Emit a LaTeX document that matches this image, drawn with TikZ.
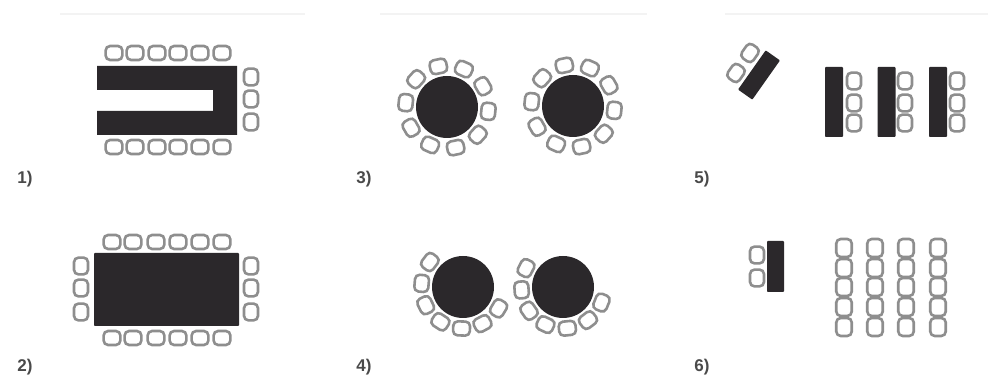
\documentclass[tikz,border=0pt]{standalone}
\usepackage{fontspec}
\setmainfont{Liberation Sans}
\usepackage{tikz}
\usetikzlibrary{positioning}
\definecolor{tabledark}{HTML}{2B282B}
\definecolor{chairgray}{HTML}{8E8E8E}
\definecolor{labelgray}{HTML}{4A4A4A}
\definecolor{rulegray}{HTML}{F3F3F3}

\begin{document}
\begin{tikzpicture}[x=1pt,y=1pt,
    desk/.style={fill=tabledark,inner sep=0pt,outer sep=0pt,rounded corners=.8pt},
    round/.style={circle,fill=tabledark,inner sep=0pt,outer sep=0pt,minimum size=62pt},
    chair/.style={draw=chairgray,fill=white,line width=2.6pt,rounded corners=4.5pt,inner sep=0pt,outer sep=0pt,minimum width=16.8pt,minimum height=14pt},
    seat/.style={chair,minimum width=15.5pt,minimum height=18pt},
    tag/.style={text=labelgray,font=\fontsize{17}{17}\bfseries\selectfont,inner sep=0pt},
    rule/.style={rulegray,line width=1.5pt}]
    \useasboundingbox (0,0) rectangle (988,385);
    \draw[rule] (60,371)--(305,371) (380,371)--(647,371) (725,371)--(988,371);

    % 1) open table
    \path \foreach \x in {114,135,157,178,200,222}{(\x,332)node[chair](a\x){} (\x,238)node[chair](b\x){}}
    \foreach \y in {308,286,263}{(251,\y)node[chair,rotate=90](c\y){}};
    \fill[tabledark] (97,319)--(237,319)--(237,250)--(97,250)--(97,274)--(213,274)--(213,295)--(97,295)--cycle;
    \node[tag] (t1) at (25,206) {1)};

    % 2) closed table
    \path \foreach \x in {112,133,156,178,200,222}{(\x,143)node[chair](d\x){} (\x,47)node[chair](e\x){}}
    \foreach \y in {119,97,73}{(81,\y)node[chair,rotate=90](f\y){} (251,\y)node[chair,rotate=90](g\y){}};
    \node[desk,minimum width=145pt,minimum height=73pt] (k2) at (166.5,95.5) {};
    \node[tag] (t2) at (25,18) {2)};

    % 3) full round tables
    \path \foreach \a in {102,66,30,354,318,282,246,210,174,138}{
    (447,278) +(\a:41.5)node[chair,rotate=\a-90](p\a){}
    (573,279) +(\a:41.5)node[chair,rotate=\a-90](q\a){}};
    \node[round] (k3a) at (447,278) {};
    \node[round] (k3b) at (573,279) {};
    \node[tag] (t3) at (364,206) {3)};

    % 4) half round tables
    \path \foreach \a in {143,175,206,237,268,298,329}{(463,98) +(\a:41.5)node[chair,rotate=\a-90](r\a){}}
    \foreach \a in {153,184,215,245,276,307,338}{(563,98) +(\a:41.5)node[chair,rotate=\a-90](s\a){}};
    \node[round] (k4a) at (463,98) {};
    \node[round] (k4b) at (563,98) {};
    \node[tag] (t4) at (364,18) {4)};

    % 5) angled desk and rows
    \node[chair,rotate=54.8] (u1) at (750,332) {};
    \node[chair,rotate=54.8] (u2) at (736,312) {};
    \node[desk,rotate=54.8,minimum width=48pt,minimum height=17.5pt] (k5) at (759,310) {};
    \path \foreach \x in {854,905,957}{(\x,304)node[chair,rotate=90](v\x){} (\x,282)node[chair,rotate=90](w\x){} (\x,262)node[chair,rotate=90](z\x){}};
    \foreach \x in {834,886.5,938}{\node[desk,minimum width=18pt,minimum height=70pt] at (\x,283) {};}
    \node[tag] (t5) at (702,206) {5)};

    % 6) lecture rows
    \node[chair,rotate=90] (h1) at (757,130) {};
    \node[chair,rotate=90] (h2) at (757,107) {};
    \node[desk,minimum width=17pt,minimum height=51pt] (k6) at (775.5,118.5) {};
    \path \foreach \x in {844,875,906,938}{\foreach \y in {137,117,98,78,58}{(\x,\y)node[seat](m\x\y){}}};
    \node[tag] (t6) at (702,18) {6)};
\end{tikzpicture}
\end{document}
